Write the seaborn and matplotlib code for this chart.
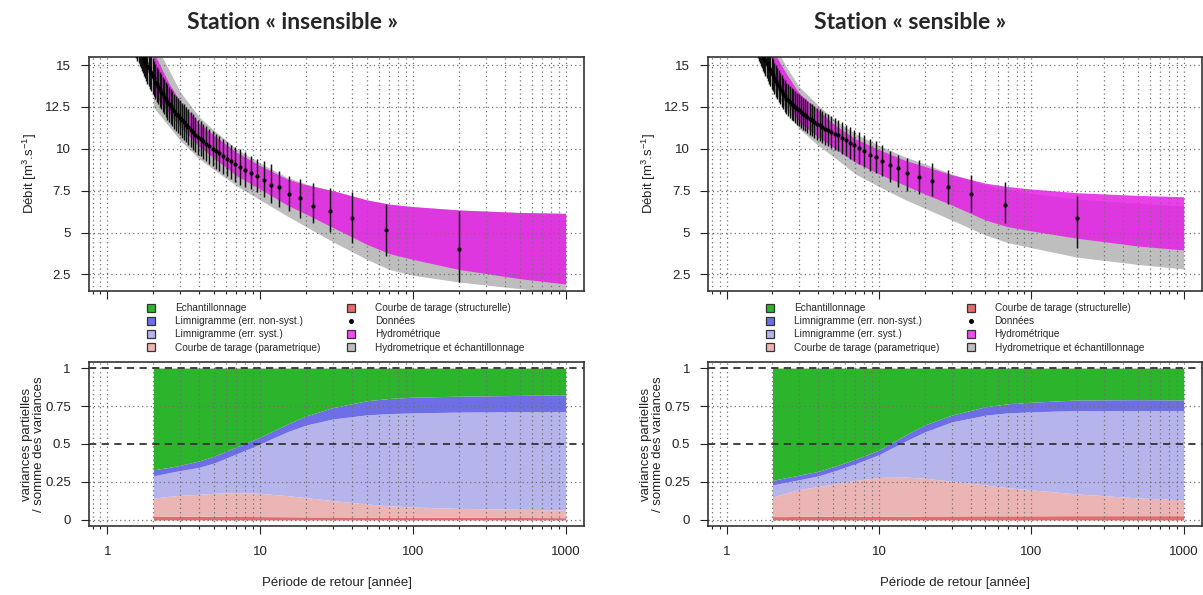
import numpy as np
import matplotlib
matplotlib.use("Agg")
import matplotlib.pyplot as plt
import seaborn as sns
from matplotlib.lines import Line2D
from matplotlib.ticker import FixedLocator, FixedFormatter, NullFormatter

# ------------------------------------------------------------------ data
titles = ["Station « insensible »", "Station « sensible »"]

# observed return periods (plotting positions) - same sample for both stations
T_obs = [200.0, 66.67, 40.0, 28.57, 22.22, 18.18, 15.38, 13.33, 11.76, 10.53,
         9.52, 8.70, 8.00, 7.41, 6.90, 6.45, 6.06, 5.71, 5.41, 5.13,
         4.88, 4.65, 4.44, 4.26, 4.08, 3.92, 3.77, 3.64, 3.51, 3.39,
         3.28, 3.17, 3.08, 2.99, 2.90, 2.82, 2.74, 2.67, 2.60, 2.53,
         2.47, 2.41, 2.35, 2.30, 2.25, 2.20, 2.15, 2.11, 2.06, 2.02,
         1.98, 1.94, 1.90, 1.87, 1.83, 1.80, 1.77, 1.74, 1.71, 1.68,
         1.65, 1.63, 1.60, 1.57, 1.55, 1.52]

# left station: observed discharge and error-bar extents (below / above)
Q_left = [4.02, 5.16, 5.85, 6.30, 6.60, 7.05, 7.30, 7.70, 7.85, 8.15,
          8.35, 8.55, 8.75, 8.90, 9.10, 9.25, 9.40, 9.60, 9.75, 9.90,
          10.00, 10.15, 10.30, 10.45, 10.60, 10.70, 10.85, 11.00, 11.15, 11.30,
          11.45, 11.60, 11.70, 11.85, 12.00, 12.10, 12.25, 12.40, 12.55, 12.65,
          12.80, 12.95, 13.10, 13.25, 13.40, 13.55, 13.70, 13.85, 14.00, 14.20,
          14.35, 14.50, 14.65, 14.80, 14.95, 15.10, 15.25, 15.40, 15.55, 15.70,
          15.85, 16.00, 16.15, 16.30, 16.45, 16.60]
dlo_left = [1.96, 1.54, 1.45, 1.25, 1.00, 1.15, 1.00, 1.20, 1.10, 1.05,
            0.95, 0.95, 1.05, 1.05, 1.10, 1.05, 1.05, 1.10, 1.10, 1.10,
            1.05, 1.05, 1.05, 1.05, 1.05, 1.05, 1.05, 1.05, 1.05, 1.05,
            1.05, 1.05, 1.05, 1.05, 1.05, 1.05, 1.05, 1.05, 1.05, 1.05,
            1.05, 1.05, 1.05, 1.05, 1.05, 1.05, 1.05, 1.05, 1.05, 1.05,
            1.05, 1.05, 1.05, 1.05, 1.05, 1.05, 1.05, 1.05, 1.05, 1.05,
            1.05, 1.05, 1.05, 1.05, 1.05, 1.05]
dhi_left = [2.27, 1.54, 1.55, 1.35, 1.35, 1.15, 1.05, 1.00, 1.25, 1.15,
            1.05, 1.00, 1.05, 1.10, 1.00, 1.00, 1.00, 1.00, 1.00, 1.00,
            1.05, 1.05, 1.05, 1.05, 1.05, 1.05, 1.05, 1.05, 1.05, 1.05,
            1.05, 1.05, 1.05, 1.05, 1.05, 1.05, 1.05, 1.05, 1.05, 1.05,
            1.05, 1.05, 1.05, 1.05, 1.05, 1.05, 1.05, 1.05, 1.05, 1.05,
            1.05, 1.05, 1.05, 1.05, 1.05, 1.05, 1.05, 1.05, 1.05, 1.05,
            1.05, 1.05, 1.05, 1.05, 1.05, 1.05]

# right station
Q_right = [5.85, 6.65, 7.30, 7.70, 8.05, 8.30, 8.55, 8.85, 9.05, 9.30,
           9.50, 9.65, 9.85, 10.05, 10.20, 10.35, 10.50, 10.65, 10.80, 10.90,
           11.00, 11.10, 11.20, 11.30, 11.40, 11.50, 11.60, 11.70, 11.80, 11.90,
           12.00, 12.10, 12.20, 12.30, 12.40, 12.50, 12.60, 12.70, 12.80, 12.90,
           13.00, 13.15, 13.30, 13.45, 13.60, 13.75, 13.90, 14.05, 14.20, 14.40,
           14.55, 14.70, 14.85, 15.00, 15.15, 15.30, 15.45, 15.60, 15.75, 15.90,
           16.05, 16.20, 16.35, 16.50, 16.65, 16.80]
dlo_right = [1.79, 1.06, 1.10, 1.00, 0.85, 1.00, 1.05, 1.15, 1.05, 0.90,
             0.95, 0.95, 0.95, 0.95, 0.95, 0.95, 0.95, 0.95, 0.95, 0.95,
             0.95, 0.95, 0.95, 0.95, 0.95, 0.95, 0.95, 0.95, 0.95, 0.95,
             0.95, 0.95, 0.95, 0.95, 0.95, 0.95, 0.95, 0.95, 0.95, 0.95,
             0.95, 0.95, 0.95, 0.95, 0.95, 0.95, 0.95, 0.95, 0.95, 0.95,
             0.95, 0.95, 0.95, 0.95, 0.95, 0.95, 0.95, 0.95, 0.95, 0.95,
             0.95, 0.95, 0.95, 0.95, 0.95, 0.95]
dhi_right = [1.33, 1.39, 1.15, 1.05, 1.10, 1.05, 0.90, 0.80, 0.80, 0.90,
             0.95, 0.95, 0.95, 0.95, 0.95, 0.95, 0.95, 0.95, 0.95, 0.95,
             0.95, 0.95, 0.95, 0.95, 0.95, 0.95, 0.95, 0.95, 0.95, 0.95,
             0.95, 0.95, 0.95, 0.95, 0.95, 0.95, 0.95, 0.95, 0.95, 0.95,
             0.95, 0.95, 0.95, 0.95, 0.95, 0.95, 0.95, 0.95, 0.95, 0.95,
             0.95, 0.95, 0.95, 0.95, 0.95, 0.95, 0.95, 0.95, 0.95, 0.95,
             0.95, 0.95, 0.95, 0.95, 0.95, 0.95]

# uncertainty bands (return period grid)
T_band = [2, 2.5, 3, 4, 5, 7, 10, 15, 20, 30, 50, 70, 100, 200, 500, 1000]

gray_lo_L = [12.5, 11.4, 10.5, 9.4, 8.75, 7.8, 6.95, 6.0, 5.35, 4.45, 3.4, 2.8, 2.45, 2.05, 1.65, 1.4]
gray_hi_L = [16.5, 14.8, 13.4, 11.9, 11.1, 10.0, 9.15, 8.3, 7.9, 7.5, 6.95, 6.7, 6.55, 6.35, 6.2, 6.15]
mag_lo_L = [13.3, 12.2, 11.3, 10.15, 9.45, 8.4, 7.6, 6.65, 6.1, 5.3, 4.3, 3.75, 3.4, 2.8, 2.25, 1.93]
mag_hi_L = [15.8, 14.0, 12.8, 11.5, 10.8, 9.8, 9.0, 8.2, 7.85, 7.5, 6.95, 6.7, 6.55, 6.35, 6.2, 6.15]

gray_lo_R = [13.6, 12.3, 11.2, 10.2, 9.55, 8.5, 7.75, 6.95, 6.45, 5.75, 4.85, 4.4, 4.1, 3.53, 3.1, 2.83]
gray_hi_R = [16.4, 14.8, 13.7, 12.6, 11.8, 10.9, 10.2, 9.5, 9.1, 8.5, 7.85, 7.55, 7.35, 7.0, 6.75, 6.6]
mag_lo_R = [14.2, 12.7, 11.6, 10.7, 10.1, 9.2, 8.5, 7.8, 7.3, 6.65, 5.75, 5.35, 5.1, 4.66, 4.2, 3.96]
mag_hi_R = [15.9, 14.4, 13.3, 12.3, 11.5, 10.6, 9.95, 9.3, 8.95, 8.45, 7.95, 7.75, 7.6, 7.38, 7.22, 7.14]

# partial variances / sum of variances (same grid)
struct_L = [0.026, 0.025, 0.025, 0.024, 0.024, 0.023, 0.022, 0.021, 0.020, 0.020, 0.019, 0.018, 0.018, 0.017, 0.016, 0.015]
param_L = [0.117, 0.130, 0.137, 0.145, 0.151, 0.157, 0.153, 0.139, 0.127, 0.107, 0.086, 0.075, 0.067, 0.059, 0.054, 0.051]
syst_L = [0.147, 0.155, 0.163, 0.178, 0.200, 0.255, 0.325, 0.420, 0.478, 0.538, 0.587, 0.607, 0.620, 0.634, 0.643, 0.648]
nonsyst_L = [0.040, 0.035, 0.035, 0.042, 0.045, 0.045, 0.045, 0.050, 0.060, 0.075, 0.093, 0.100, 0.103, 0.105, 0.107, 0.110]
echant_L = [0.670, 0.655, 0.640, 0.611, 0.580, 0.520, 0.455, 0.370, 0.315, 0.260, 0.215, 0.200, 0.192, 0.185, 0.180, 0.176]

struct_R = [0.022, 0.022, 0.023, 0.023, 0.024, 0.024, 0.025, 0.025, 0.026, 0.026, 0.027, 0.027, 0.027, 0.028, 0.028, 0.028]
param_R = [0.128, 0.158, 0.177, 0.197, 0.211, 0.236, 0.255, 0.257, 0.249, 0.229, 0.203, 0.185, 0.171, 0.143, 0.117, 0.104]
syst_R = [0.080, 0.070, 0.065, 0.070, 0.085, 0.110, 0.150, 0.238, 0.305, 0.390, 0.460, 0.493, 0.514, 0.549, 0.575, 0.588]
nonsyst_R = [0.030, 0.030, 0.030, 0.030, 0.030, 0.030, 0.030, 0.040, 0.046, 0.045, 0.055, 0.060, 0.063, 0.070, 0.072, 0.070]
echant_R = [0.740, 0.720, 0.705, 0.680, 0.650, 0.600, 0.540, 0.440, 0.374, 0.310, 0.255, 0.235, 0.225, 0.210, 0.208, 0.210]

legend_labels = ["Echantillonnage", "Limnigramme (err. non-syst.)", "Limnigramme (err. syst.)",
                 "Courbe de tarage (parametrique)", "Courbe de tarage (structurelle)", "Données",
                 "Hydrométrique", "Hydrometrique et échantillonnage"]

x_major = [1, 10, 100, 1000]
x_major_labels = ["1", "10", "100", "1000"]
x_minor = [0.8, 0.9, 2, 3, 4, 5, 6, 7, 8, 9, 20, 30, 40, 50, 60, 70, 80, 90,
           200, 300, 400, 500, 600, 700, 800, 900]
y_top_ticks = [2.5, 5, 7.5, 10, 12.5, 15]
y_top_labels = ["2.5", "5", "7.5", "10", "12.5", "15"]
y_bot_ticks = [0, 0.25, 0.5, 0.75, 1]
y_bot_labels = ["0", "0.25", "0.5", "0.75", "1"]

# ------------------------------------------------------------------ style
sns.set_theme(style="ticks")
plt.rcParams["font.family"] = ["Liberation Sans", "DejaVu Sans"]
plt.rcParams["mathtext.fontset"] = "custom"
plt.rcParams["mathtext.rm"] = "Liberation Sans"
plt.rcParams["mathtext.it"] = "Liberation Sans:italic"
plt.rcParams["mathtext.bf"] = "Liberation Sans:bold"

C_GREEN = "#2DB42D"
C_BLUE = "#6E6EE6"
C_LAV = "#B5B5EC"
C_PINK = "#EBB5B5"
C_RED = "#E46B6B"
C_GRAY = "#BEBEBE"
C_MAG = (0.90, 0.12, 0.90)
MAG_ALPHA = 0.85
GRID_KW = dict(color="#707070", linestyle=(0, (1, 2.5)), linewidth=0.9)
FS = 9.5

W, H = 1203, 595
fig = plt.figure(figsize=(W / 100, H / 100), dpi=100)


def fx(px):
    return px / W


def fy(py):
    return 1 - py / H


def style_x(ax, labels):
    ax.set_xscale("log")
    ax.set_xlim(10 ** -0.12, 10 ** 3.12)
    ax.xaxis.set_major_locator(FixedLocator(x_major))
    ax.xaxis.set_minor_locator(FixedLocator(x_minor))
    ax.xaxis.set_minor_formatter(NullFormatter())
    if labels:
        ax.xaxis.set_major_formatter(FixedFormatter(x_major_labels))
    else:
        ax.xaxis.set_major_formatter(NullFormatter())
    ax.tick_params(axis="x", which="major", length=6, width=0.8, pad=8.5,
                   labelsize=FS, color="#222222", labelcolor="#222222")
    ax.tick_params(axis="x", which="minor", length=2.4, width=0.8, color="#222222")
    ax.grid(axis="x", which="both", **GRID_KW)
    ax.set_axisbelow(False)
    ax.tick_params(axis="y", length=6, width=0.8, pad=7, labelsize=FS,
                   color="#222222", labelcolor="#222222")
    for s in ax.spines.values():
        s.set_linewidth(1.2)
        s.set_color("#333333")


panels = [
    dict(x0=89.0, x1=584.0, title=titles[0], tcx=292,
         Q=Q_left, dlo=dlo_left, dhi=dhi_left,
         glo=gray_lo_L, ghi=gray_hi_L, mlo=mag_lo_L, mhi=mag_hi_L,
         var=[struct_L, param_L, syst_L, nonsyst_L, echant_L]),
    dict(x0=708.3, x1=1202.0, title=titles[1], tcx=910,
         Q=Q_right, dlo=dlo_right, dhi=dhi_right,
         glo=gray_lo_R, ghi=gray_hi_R, mlo=mag_lo_R, mhi=mag_hi_R,
         var=[struct_R, param_R, syst_R, nonsyst_R, echant_R]),
]

TOP_Y0, TOP_Y1 = 56.7, 290.7
BOT_Y0, BOT_Y1 = 362.0, 526.0

for p in panels:
    wpx = p["x1"] - p["x0"]
    ax_t = fig.add_axes([fx(p["x0"]), fy(TOP_Y1), wpx / W, (TOP_Y1 - TOP_Y0) / H])
    ax_b = fig.add_axes([fx(p["x0"]), fy(BOT_Y1), wpx / W, (BOT_Y1 - BOT_Y0) / H])

    # ---------------- top: quantile curves
    style_x(ax_t, labels=False)
    ax_t.fill_between(T_band, p["glo"], p["ghi"], color=C_GRAY, lw=0, zorder=1)
    ax_t.fill_between(T_band, p["mlo"], p["mhi"], color=C_MAG, alpha=MAG_ALPHA, lw=0, zorder=1.1)
    Q = np.array(p["Q"])
    lo = Q - np.array(p["dlo"])
    hi = Q + np.array(p["dhi"])
    ax_t.vlines(T_obs, lo, hi, color="#111111", lw=1.05, zorder=4)
    sns.scatterplot(x=T_obs, y=p["Q"], color="black", s=9, linewidth=0,
                    ax=ax_t, zorder=5, legend=False)
    ax_t.set_ylim(1.53, 15.5)
    ax_t.yaxis.set_major_locator(FixedLocator(y_top_ticks))
    ax_t.yaxis.set_major_formatter(FixedFormatter(y_top_labels))
    ax_t.grid(axis="y", which="major", **GRID_KW)
    ax_t.set_xlabel("")
    ax_t.set_ylabel("Débit [m$^{3}$.s$^{-1}$]", fontsize=FS, color="#222222")
    ax_t.yaxis.set_label_coords((39 - 89) / 495, 0.5)

    # ---------------- bottom: variance shares
    style_x(ax_b, labels=True)
    ax_b.stackplot(T_band, *p["var"], colors=[C_RED, C_PINK, C_LAV, C_BLUE, C_GREEN],
                   lw=0, zorder=1)
    ax_b.set_ylim(-0.04, 1.04)
    ax_b.yaxis.set_major_locator(FixedLocator(y_bot_ticks))
    ax_b.yaxis.set_major_formatter(FixedFormatter(y_bot_labels))
    for yv in [0, 0.25, 0.75]:
        ax_b.axhline(yv, zorder=2.5, **GRID_KW)
    for yv in [0.5, 1.0]:
        ax_b.axhline(yv, color="#333333", lw=1.3, linestyle=(0, (4, 3)), zorder=3)
    ax_b.set_ylabel("variances partielles\n/ somme des variances", fontsize=FS,
                    color="#222222", linespacing=1.0)
    ax_b.yaxis.set_label_coords((45 - 89) / 495, 0.5)
    ax_b.set_xlabel("Période de retour [année]", fontsize=FS, color="#222222")
    ax_b.xaxis.set_label_coords(0.5, -(577 - 526) / 164)

    # ---------------- legend
    colors = [C_GREEN, C_BLUE, C_LAV, C_PINK, C_RED, None, None, C_GRAY]
    handles = []
    for i, c in enumerate(colors):
        if i == 5:
            handles.append(Line2D([], [], ls="none", marker="o", ms=2.6,
                                  mfc="black", mec="black"))
        elif i == 6:
            handles.append(Line2D([], [], ls="none", marker="s", ms=6.3,
                                  mfc=(0.93, 0.30, 0.93), mec="#333333", mew=0.9))
        else:
            handles.append(Line2D([], [], ls="none", marker="s", ms=6.3,
                                  mfc=c, mec="#333333", mew=0.9))
    ax_t.legend(handles, legend_labels, ncol=2, loc="upper left",
                bbox_to_anchor=((146 - 89) / 495, (TOP_Y1 - 303) / (TOP_Y1 - TOP_Y0)),
                frameon=False, fontsize=7.2, handlelength=1.0, handletextpad=1.9,
                columnspacing=2.6, labelspacing=0.32, borderpad=0, borderaxespad=0)

    fig.text(fx(p["tcx"]), fy(29), p["title"], ha="center", va="baseline",
             fontsize=16.5, fontweight="bold", family=["Lato", "DejaVu Sans"])

fig.savefig("out.png", dpi=100)
